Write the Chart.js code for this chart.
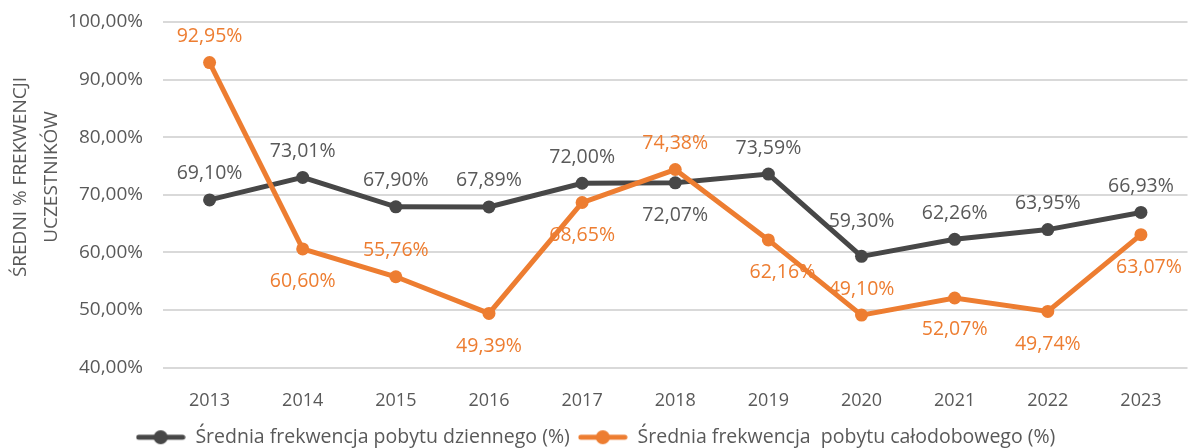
<!DOCTYPE html>
<html>
<head>
<meta charset="utf-8">
<script src="https://cdn.jsdelivr.net/npm/chart.js@4/dist/chart.umd.min.js"></script>
<style>
html,body{margin:0;padding:0;background:#fff;}
#wrap{width:1194px;height:448px;position:relative;}
</style>
</head>
<body>
<div id="wrap"><canvas id="c" width="1194" height="448"></canvas></div>
<script>
const categories = ['2013','2014','2015','2016','2017','2018','2019','2020','2021','2022','2023'];
const dzienny = [69.10, 73.01, 67.90, 67.89, 72.00, 72.07, 73.59, 59.30, 62.26, 63.95, 66.93];
const calodobowy = [92.95, 60.60, 55.76, 49.39, 68.65, 74.38, 62.16, 49.10, 52.07, 49.74, 63.07];
const yTickValues = [40, 50, 60, 70, 80, 90, 100];
const seriesNames = ['Średnia frekwencja pobytu dziennego (%)', 'Średnia frekwencja  pobytu całodobowego (%)'];
const yTitleLines = ['ŚREDNI % FREKWENCJI', 'UCZESTNIKÓW'];

const GREY = '#474747';
const ORANGE = '#ED7D31';
const TEXT = '#595959';
const FONT = "'Open Sans', sans-serif";

function fmt(v){ return v.toFixed(2).replace('.', ',') + '%'; }

function legendMarker(color){
  const c = document.createElement('canvas');
  c.width = 50; c.height = 16;
  const x = c.getContext('2d');
  x.strokeStyle = color; x.lineWidth = 5; x.lineCap = 'round';
  x.beginPath(); x.moveTo(3, 8); x.lineTo(47, 8); x.stroke();
  x.fillStyle = color; x.beginPath(); x.arc(25, 8, 7, 0, Math.PI*2); x.fill();
  return c;
}

const labelPlugin = {
  id: 'pointLabels',
  beforeDatasetsDraw(chart, args, opts){
    const ctx = chart.ctx;
    ctx.save();
    ctx.font = '19.5px ' + FONT;
    ctx.textAlign = 'center';
    ctx.textBaseline = 'middle';
    chart.data.datasets.forEach((ds, i) => {
      const meta = chart.getDatasetMeta(i);
      const pos = opts.placement[i];
      ctx.fillStyle = opts.colors[i];
      meta.data.forEach((pt, j) => {
        let dy = pos[j] === 'a' ? -26 : 33;
        let dx = 0;
        const adj = opts.adjust[i + ':' + j];
        if (adj) { dx += adj[0]; dy += adj[1]; }
        ctx.fillText(fmt(ds.data[j]), pt.x + dx, pt.y + dy);
      });
    });
    ctx.restore();
  }
};

const yTitlePlugin = {
  id: 'yTitle',
  afterDraw(chart){
    const ctx = chart.ctx;
    ctx.save();
    ctx.font = '19px ' + FONT;
    ctx.fillStyle = TEXT;
    ctx.textAlign = 'center';
    ctx.textBaseline = 'middle';
    const xs = [21, 52];
    yTitleLines.forEach((t, i) => {
      ctx.save();
      ctx.translate(xs[i], 177);
      ctx.rotate(-Math.PI/2);
      ctx.fillText(t, 0, 0);
      ctx.restore();
    });
    ctx.restore();
  }
};

new Chart(document.getElementById('c'), {
  type: 'line',
  data: {
    labels: categories,
    datasets: [
      {label: seriesNames[0], data: dzienny, borderColor: GREY, backgroundColor: GREY, borderWidth: 5,
       pointRadius: 6.5, pointHoverRadius: 6.5, pointBackgroundColor: GREY, pointBorderWidth: 0, tension: 0, order: 1},
      {label: seriesNames[1], data: calodobowy, borderColor: ORANGE, backgroundColor: ORANGE, borderWidth: 5,
       pointRadius: 6.5, pointHoverRadius: 6.5, pointBackgroundColor: ORANGE, pointBorderWidth: 0, tension: 0, order: 0}
    ]
  },
  options: {
    responsive: false,
    animation: false,
    layout: {padding: {top: 22, right: 3, left: 0, bottom: -9}},
    plugins: {
      tooltip: {enabled: false},
      pointLabels: {
        placement: [
          ['a','a','a','a','a','b','a','a','a','a','a'],
          ['a','b','a','b','b','a','b','a','b','b','b']
        ],
        adjust: {'0:7': [0, -9], '1:6': [14, 0], '1:8': [0, -2], '1:10': [8, 0]},
        colors: [TEXT, ORANGE]
      },
      legend: {
        position: 'bottom',
        labels: {
          usePointStyle: true,
          pointStyleWidth: 50,
          padding: 8,
          color: TEXT,
          font: {family: FONT, size: 19.5},
          sort: (a, b) => a.datasetIndex - b.datasetIndex,
          generateLabels(chart){
            return chart.data.datasets.map((ds, i) => ({
              text: ds.label, fillStyle: ds.borderColor, strokeStyle: ds.borderColor,
              lineWidth: 0, pointStyle: legendMarker(ds.borderColor), datasetIndex: i, hidden: false, fontColor: TEXT
            }));
          }
        }
      }
    },
    scales: {
      x: {
        offset: true,
        afterFit(scale){ scale.height = 52; scale.paddingLeft = 0; scale.paddingRight = 0; },
        grid: {display: false, drawTicks: false},
        border: {display: false},
        ticks: {color: TEXT, font: {family: FONT, size: 18}, padding: 23}
      },
      y: {
        min: 40, max: 100,
        afterFit(scale){ scale.width = 163; scale.paddingTop = 0; scale.paddingBottom = 0; },
        afterBuildTicks(scale){ scale.ticks = yTickValues.map(v => ({value: v})); },
        grid: {color: '#D9D9D9', lineWidth: 2, drawTicks: false},
        border: {display: false},
        ticks: {color: TEXT, font: {family: FONT, size: 19}, padding: 20,
                callback: v => v.toFixed(2).replace('.', ',') + '%'}
      }
    }
  },
  plugins: [labelPlugin, yTitlePlugin]
});
</script>
</body>
</html>
